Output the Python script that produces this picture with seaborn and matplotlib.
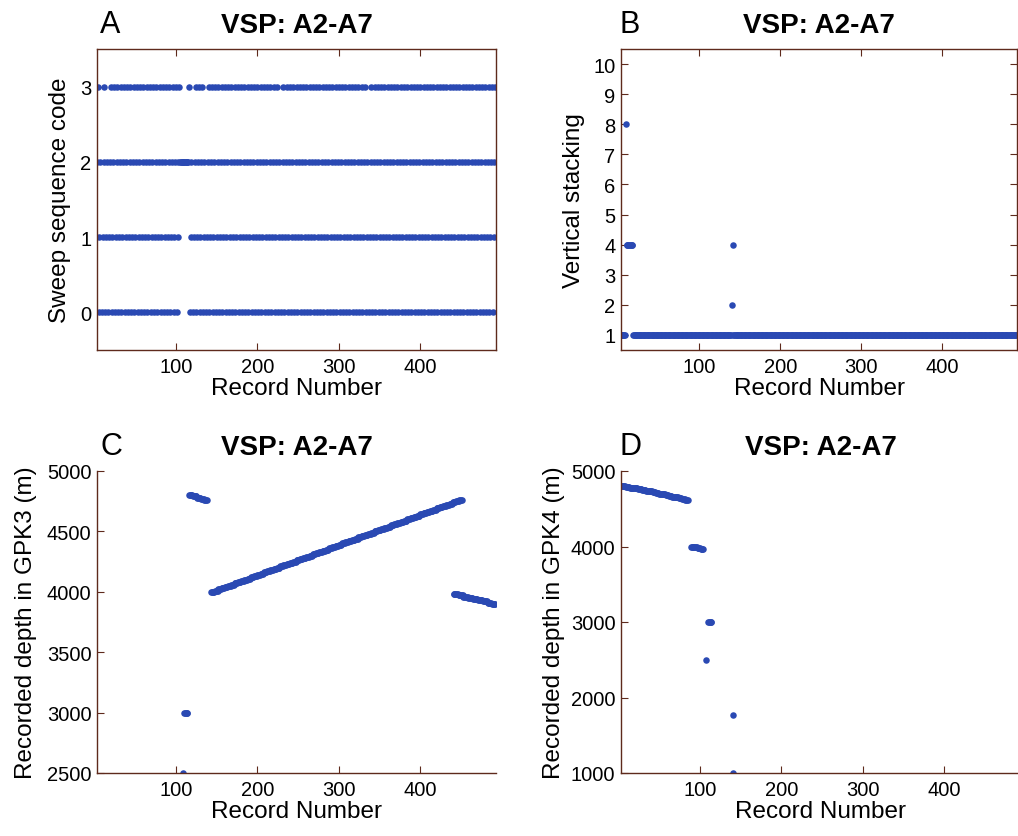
import numpy as np
import pandas as pd
import matplotlib
matplotlib.use('Agg')
import matplotlib.pyplot as plt
import seaborn as sns

# Cau hinh chung
sns.set_style('white')
plt.rcParams['font.family'] = ['Liberation Sans', 'DejaVu Sans']
plt.rcParams['xtick.direction'] = 'in'
plt.rcParams['ytick.direction'] = 'in'
plt.rcParams['text.color'] = 'black'
plt.rcParams['axes.labelcolor'] = 'black'

DOT = '#2a49b3'
EDGE = '#5e2a1c'

# --- Du lieu chung ---
records = np.arange(1, 493)
x_ticks = [100, 200, 300, 400]
x_limits = [3, 493]
panel_title = 'VSP: A2-A7'

# --- A: sweep sequence code ---
sweep_cycle = [0, 1, 2, 3]
repeat_code2_records = [105, 106, 107, 108, 109, 110, 111, 112, 113, 114, 115]
dropped_records = [8, 16, 120, 136, 228, 336]
sweep_ticks = [0, 1, 2, 3]

# --- B: vertical stacking ---
stack_default = 1
stack_records = [9, 10, 11, 12, 13, 14, 15, 16, 17, 140, 141]
stack_values = [8, 4, 4, 4, 4, 4, 4, 4, 4, 2, 4]
stack_ticks = [1, 2, 3, 4, 5, 6, 7, 8, 9, 10]

# --- C: recorded depth in GPK3 (first record, last record) ---
gpk3_segments = [(108, 108), (110, 114), (116, 138), (143, 451), (441, 492)]
gpk3_levels = [
    [2500],
    [3000],
    [4800, 4790, 4780, 4770, 4760],
    [4000, 4010, 4020, 4030, 4040, 4050, 4060, 4070, 4080, 4090,
     4100, 4110, 4120, 4130, 4140, 4150, 4160, 4170, 4180, 4190,
     4200, 4210, 4220, 4230, 4240, 4250, 4260, 4270, 4280, 4290,
     4300, 4310, 4320, 4330, 4340, 4350, 4360, 4370, 4380, 4390,
     4400, 4410, 4420, 4430, 4440, 4450, 4460, 4470, 4480, 4490,
     4500, 4510, 4520, 4530, 4540, 4550, 4560, 4570, 4580, 4590,
     4600, 4610, 4620, 4630, 4640, 4650, 4660, 4670, 4680, 4690,
     4700, 4710, 4720, 4730, 4740, 4750, 4760],
    [3980, 3970, 3960, 3950, 3940, 3930, 3920, 3910, 3900],
]
gpk3_ticks = [2500, 3000, 3500, 4000, 4500, 5000]

# --- D: recorded depth in GPK4 ---
gpk4_segments = [(4, 85), (89, 104), (107, 107), (110, 114), (140, 140), (140, 140)]
gpk4_levels = [
    [4800, 4790, 4780, 4770, 4760, 4750, 4740, 4730, 4720, 4710,
     4700, 4690, 4680, 4670, 4660, 4650, 4640, 4630, 4620],
    [4000, 3990, 3980, 3970],
    [2500],
    [3000],
    [1770],
    [1000],
]
gpk4_ticks = [1000, 2000, 3000, 4000, 5000]


def expand(segments, levels):
    rows = []
    for (first, last), lev in zip(segments, levels):
        recs = np.arange(first, last + 1)
        for chunk, value in zip(np.array_split(recs, len(lev)), lev):
            for r in chunk:
                rows.append({'record': r, 'value': value})
    return pd.DataFrame(rows)


# Bang du lieu cho tung panel
sweep_rows = []
for r in records:
    code = sweep_cycle[(r - 1) % 4]
    if r in repeat_code2_records:
        code = 2
    if r in dropped_records:
        continue
    sweep_rows.append({'record': r, 'value': code})
df_a = pd.DataFrame(sweep_rows)

stack_map = dict(zip(stack_records, stack_values))
df_b = pd.DataFrame({'record': records,
                     'value': [stack_map.get(r, stack_default) for r in records]})
df_c = expand(gpk3_segments, gpk3_levels)
df_d = expand(gpk4_segments, gpk4_levels)

fig = plt.figure(figsize=(10.18, 8.37), dpi=100)
W = 1018.0
H = 837.0


def make_axes(left, top, right, bottom):
    return fig.add_axes([left / W, 1 - bottom / H, (right - left) / W, (bottom - top) / H])


ax_a = make_axes(97, 50, 496, 351)
ax_b = make_axes(621, 50, 1017, 351)
ax_c = make_axes(97, 472, 496, 774)
ax_d = make_axes(621, 472, 1020, 774)

panels = [
    (ax_a, df_a, (-0.5, 3.5), sweep_ticks, 'Sweep sequence code', True, 6.5),
    (ax_b, df_b, (0.5, 10.5), stack_ticks, 'Vertical stacking', True, 6),
    (ax_c, df_c, (2500, 5000), gpk3_ticks, 'Recorded depth in GPK3 (m)', False, 7),
    (ax_d, df_d, (1000, 5000), gpk4_ticks, 'Recorded depth in GPK4 (m)', False, 4),
]

for ax, df, ylim, yticks, ylabel, boxed, lpad in panels:
    sns.scatterplot(data=df, x='record', y='value', ax=ax, color=DOT,
                    s=22, linewidth=0, marker='o')
    ax.set_xlim(x_limits)
    ax.set_ylim(ylim)
    ax.set_xticks(x_ticks)
    ax.set_yticks(yticks)
    ax.set_xlabel('Record Number', fontsize=17.5, labelpad=1)
    ax.set_ylabel(ylabel, fontsize=17.5, labelpad=lpad)
    ax.set_title(panel_title, fontsize=20, fontweight='bold', pad=12.5, color='black')
    ax.tick_params(axis='both', labelsize=14.5, length=5, width=0.8,
                   color=EDGE, labelcolor='black', bottom=True, left=True,
                   top=boxed, right=boxed)
    ax.tick_params(axis='x', pad=5)
    ax.tick_params(axis='y', pad=4)
    for name, sp in ax.spines.items():
        sp.set_color(EDGE)
        sp.set_linewidth(1.0)
    if not boxed:
        sns.despine(ax=ax)

# Nhan panel
for letter, x, y in [('A', 100, 33), ('B', 620, 33), ('C', 100, 455), ('D', 620, 455)]:
    fig.text(x / W, 1 - y / H, letter, fontsize=22, ha='left', va='baseline')

fig.savefig('out.png', dpi=100)
